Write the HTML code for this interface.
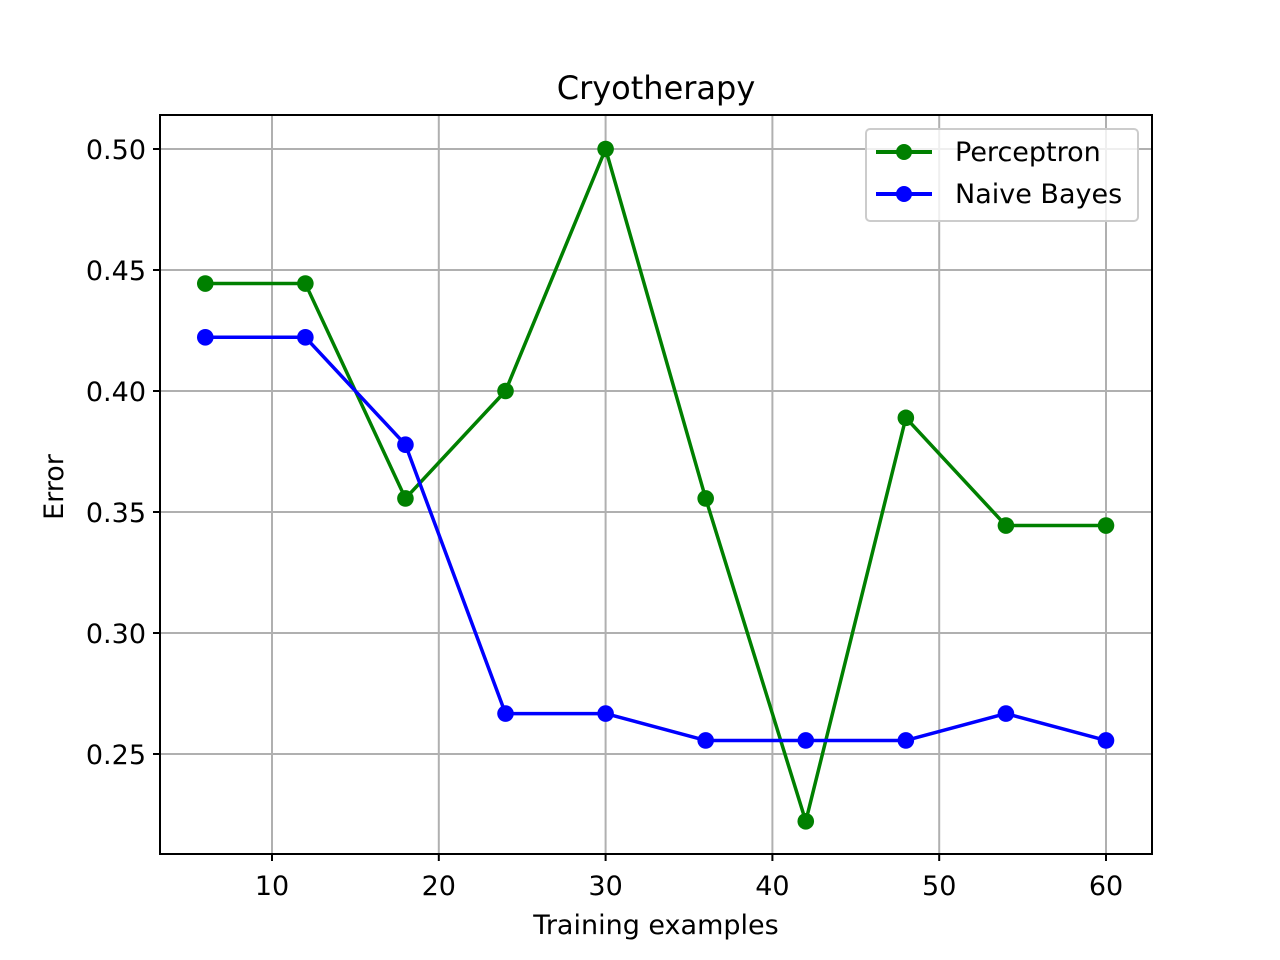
<!DOCTYPE html>
<html><head><meta charset="utf-8"><style>body{margin:0;background:#fff}svg{display:block;font-family:"DejaVu Sans","Liberation Sans",sans-serif}</style></head>
<body>
<svg id="chart" width="1280" height="960" xmlns="http://www.w3.org/2000/svg">
<rect width="1280" height="960" fill="#fff"/>
<g id="grid"></g>
<g id="series"></g>
<rect x="160" y="115" width="992" height="739" fill="none" stroke="#000" stroke-width="2"/>
<g id="ticks"></g>
<text x="656" y="99" font-size="32" text-anchor="middle">Cryotherapy</text>
<text x="656" y="934" font-size="27" text-anchor="middle">Training examples</text>
<text x="63" y="487" font-size="27" text-anchor="middle" transform="rotate(-90 63 487)">Error</text>
<g>
<rect x="866" y="129" width="272" height="92" rx="4" fill="#fff" fill-opacity="0.8" stroke="#ccc" stroke-width="2"/>
<g><line x1="876" y1="152" x2="932" y2="152" stroke="green" stroke-width="4"/><circle cx="904" cy="152" r="8" fill="green"/><text x="955" y="161" font-size="27">Perceptron</text></g>
<g><line x1="876" y1="194" x2="932" y2="194" stroke="blue" stroke-width="4"/><circle cx="904" cy="194" r="8" fill="blue"/><text x="955" y="203" font-size="27">Naive Bayes</text></g>
</g>
</svg>
<script>
const xValues=[6,12,18,24,30,36,42,48,54,60];
const perceptron=[0.4444,0.4444,0.3556,0.4,0.5,0.3556,0.2222,0.3889,0.3444,0.3444];
const naiveBayes=[0.4222,0.4222,0.3778,0.2667,0.2667,0.2556,0.2556,0.2556,0.2667,0.2556];
const xTicks=[10,20,30,40,50,60];
const yTicks=[0.25,0.30,0.35,0.40,0.45,0.50];
const NS="http://www.w3.org/2000/svg";
const xs=v=>272+(v-10)*16.68;
const ys=v=>754-(v-0.25)*2420;
function mk(t,a,p){const e=document.createElementNS(NS,t);for(const k in a)e.setAttribute(k,a[k]);p.appendChild(e);return e;}
const grid=document.getElementById('grid'),ticks=document.getElementById('ticks'),ser=document.getElementById('series');
xTicks.forEach(t=>{const x=xs(t);
const g=mk('line',{x1:x,x2:x,y1:115,y2:854,stroke:'#b0b0b0','stroke-width':2},grid);


mk('line',{x1:x,x2:x,y1:854,y2:861,stroke:'#000','stroke-width':2},ticks);
const tx=mk('text',{x:x,y:895,'font-size':27,'text-anchor':'middle'},ticks);tx.textContent=t;

});
yTicks.forEach(t=>{const y=ys(t);
const g=mk('line',{x1:160,x2:1152,y1:y,y2:y,stroke:'#b0b0b0','stroke-width':2},grid);


mk('line',{x1:153,x2:160,y1:y,y2:y,stroke:'#000','stroke-width':2},ticks);
const tx=mk('text',{x:146,y:y+10,'font-size':27,'text-anchor':'end'},ticks);tx.textContent=t.toFixed(2);

});
function draw(vals,color,name){
const pl=mk('polyline',{points:vals.map((v,i)=>xs(xValues[i])+','+ys(v)).join(' '),fill:'none',stroke:color,'stroke-width':3.5,'stroke-linejoin':'round'},ser);


vals.forEach((v,i)=>{const c=mk('circle',{cx:xs(xValues[i]),cy:ys(v),r:8.3,fill:color},ser);

});}
draw(perceptron,'green','perceptron');
draw(naiveBayes,'blue','naive-bayes');
</script>
</body></html>
